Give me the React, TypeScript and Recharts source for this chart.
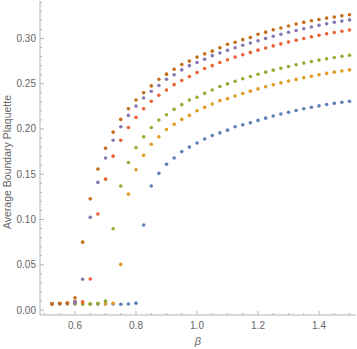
import React from "react";
import { ScatterChart, Scatter, XAxis, YAxis } from "recharts";

const betas = [
  0.525, 0.55, 0.575, 0.6, 0.625, 0.65, 0.675, 0.7, 0.725, 0.75,
  0.775, 0.8, 0.825, 0.85, 0.875, 0.9, 0.925, 0.95, 0.975, 1.0,
  1.025, 1.05, 1.075, 1.1, 1.125, 1.15, 1.175, 1.2, 1.225, 1.25,
  1.275, 1.3, 1.325, 1.35, 1.375, 1.4, 1.425, 1.45, 1.475, 1.5,
];

const blueVals = [
  0.0066, 0.0068, 0.0068, 0.0066, 0.0066, 0.0066, 0.0067, 0.0066, 0.0066, 0.0064,
  0.0066, 0.0076, 0.094, 0.137, 0.151, 0.161, 0.168, 0.175, 0.18, 0.1846,
  0.189, 0.1928, 0.1957, 0.1987, 0.2024, 0.2046, 0.2069, 0.2095, 0.212, 0.2143,
  0.2165, 0.2185, 0.2205, 0.2224, 0.224, 0.2255, 0.227, 0.2283, 0.2295, 0.2306,
];

const orangeVals = [
  0.0068, 0.007, 0.0072, 0.0075, 0.007, 0.007, 0.0075, 0.0068, 0.0074, 0.0504,
  0.128, 0.155, 0.171, 0.1831, 0.1913, 0.1994, 0.2053, 0.2106, 0.215, 0.2202,
  0.2239, 0.2276, 0.2313, 0.2335, 0.2364, 0.2392, 0.2418, 0.2443, 0.2466, 0.2488,
  0.2509, 0.2529, 0.2548, 0.2566, 0.2583, 0.2599, 0.2614, 0.2628, 0.2641, 0.2653,
];

const greenVals = [
  0.0066, 0.0068, 0.007, 0.0072, 0.0067, 0.0065, 0.0072, 0.0098, 0.0898, 0.137,
  0.163, 0.1794, 0.1913, 0.2017, 0.21, 0.2157, 0.2217, 0.2269, 0.232, 0.235,
  0.2394, 0.2431, 0.2469, 0.2498, 0.2528, 0.2555, 0.258, 0.2605, 0.2628, 0.265,
  0.2671, 0.2691, 0.271, 0.2728, 0.2745, 0.2761, 0.2776, 0.279, 0.2803, 0.2815,
];

const redVals = [
  0.0066, 0.0072, 0.0075, 0.0095, 0.009, 0.0342, 0.106, 0.1446, 0.17, 0.1876,
  0.2017, 0.2128, 0.2224, 0.2306, 0.2372, 0.2431, 0.249, 0.2535, 0.258, 0.2624,
  0.2669, 0.27, 0.2735, 0.2765, 0.2794, 0.282, 0.2846, 0.2871, 0.2895, 0.2918,
  0.294, 0.2961, 0.2981, 0.3, 0.3018, 0.3035, 0.3051, 0.3066, 0.308, 0.3093,
];

const purpleVals = [
  0.0068, 0.0072, 0.0078, 0.0087, 0.034, 0.1024, 0.141, 0.168, 0.1876, 0.2024,
  0.215, 0.2253, 0.2342, 0.2417, 0.248, 0.255, 0.26, 0.2653, 0.27, 0.2735,
  0.277, 0.281, 0.2839, 0.2869, 0.2898, 0.2925, 0.295, 0.2975, 0.3, 0.3025,
  0.3046, 0.3068, 0.3088, 0.3108, 0.3127, 0.3145, 0.3162, 0.3178, 0.3192, 0.3205,
];

const brownVals = [
  0.0068, 0.0075, 0.0078, 0.0135, 0.075, 0.1228, 0.1557, 0.1787, 0.1965, 0.2106,
  0.2224, 0.232, 0.24, 0.2476, 0.255, 0.2606, 0.266, 0.2713, 0.275, 0.2794,
  0.283, 0.286, 0.2898, 0.2935, 0.2957, 0.2987, 0.301, 0.3046, 0.307, 0.3095,
  0.3115, 0.3138, 0.316, 0.3178, 0.3195, 0.321, 0.3225, 0.3238, 0.325, 0.3262,
];

const xTicks = [
  0.5, 0.55, 0.6, 0.65, 0.7, 0.75, 0.8, 0.85, 0.9, 0.95, 1.0,
  1.05, 1.1, 1.15, 1.2, 1.25, 1.3, 1.35, 1.4, 1.45, 1.5,
];
const xMajor = [0.6, 0.8, 1.0, 1.2, 1.4];

const yTicks = [
  0, 0.01, 0.02, 0.03, 0.04, 0.05, 0.06, 0.07, 0.08, 0.09, 0.1, 0.11,
  0.12, 0.13, 0.14, 0.15, 0.16, 0.17, 0.18, 0.19, 0.2, 0.21, 0.22, 0.23,
  0.24, 0.25, 0.26, 0.27, 0.28, 0.29, 0.3, 0.31, 0.32, 0.33, 0.34,
];
const yMajor = [0, 0.05, 0.1, 0.15, 0.2, 0.25, 0.3];

const series = [
  { name: "s1", vals: blueVals, color: "#5E81B5" },
  { name: "s2", vals: orangeVals, color: "#E19C24" },
  { name: "s3", vals: greenVals, color: "#8FB032" },
  { name: "s4", vals: redVals, color: "#EB6235" },
  { name: "s5", vals: purpleVals, color: "#8778B3" },
  { name: "s6", vals: brownVals, color: "#C56E1A" },
];

const FRAME = "#b4b4b4";
const LABEL = "#666666";
const FONT = "'Liberation Sans', Arial, sans-serif";

const isMajor = (list: number[], v: number) =>
  list.some((m) => Math.abs(m - v) < 1e-6);

const BottomTick = (props: any) => {
  const { x, y, payload } = props;
  const major = isMajor(xMajor, payload.value);
  return (
    <g>
      <line x1={x} x2={x} y1={y} y2={y - (major ? 4 : 2)} stroke={FRAME} />
      {major && (
        <text
          x={x}
          y={y + 14}
          textAnchor="middle"
          fontSize={10}
          fontFamily={FONT}
          fill={LABEL}
        >
          {payload.value.toFixed(1)}
        </text>
      )}
    </g>
  );
};

const TopTick = (props: any) => {
  const { x, y, payload } = props;
  const major = isMajor(xMajor, payload.value);
  return <line x1={x} x2={x} y1={y} y2={y + (major ? 4 : 2)} stroke={FRAME} />;
};

const LeftTick = (props: any) => {
  const { x, y, payload } = props;
  const major = isMajor(yMajor, payload.value);
  return (
    <g>
      <line x1={x} x2={x + (major ? 4 : 2)} y1={y} y2={y} stroke={FRAME} />
      {major && (
        <text
          x={x - 4}
          y={y + 3.5}
          textAnchor="end"
          fontSize={10}
          fontFamily={FONT}
          fill={LABEL}
        >
          {payload.value.toFixed(2)}
        </text>
      )}
    </g>
  );
};

const RightTick = (props: any) => {
  const { x, y, payload } = props;
  const major = isMajor(yMajor, payload.value);
  return <line x1={x} x2={x - (major ? 4 : 2)} y1={y} y2={y} stroke={FRAME} />;
};

const YTitle = () => (
  <text
    x={11}
    y={162}
    transform="rotate(-90 11 162)"
    textAnchor="middle"
    fontSize={10.5}
    fontFamily={FONT}
    fill={LABEL}
  >
    Average Boundary Plaquette
  </text>
);

const Dot = (props: any) => {
  const { cx, cy, fill } = props;
  return <circle cx={cx} cy={cy} r={1.8} fill={fill} />;
};

const xDomain = [0.4852, 1.5213];
const yDomain = [-0.0055, 0.3414];

export default function App() {
  return (
    <div style={{ position: "absolute", left: 0, top: 0 }}>
      <ScatterChart
        width={357}
        height={349}
        margin={{ top: 1, right: 1, bottom: 0, left: 0 }}
      >
        <XAxis
          xAxisId="b"
          type="number"
          dataKey="x"
          domain={xDomain}
          ticks={xTicks}
          interval={0}
          height={34}
          tickSize={0}
          tickMargin={0}
          stroke={FRAME}
          tick={BottomTick}
          allowDataOverflow
          label={{
            value: "β",
            position: "insideBottom",
            offset: 4,
            fontStyle: "italic",
            fontSize: 11,
            fontFamily: FONT,
            fill: LABEL,
          }}
        />
        <XAxis
          xAxisId="t"
          orientation="top"
          type="number"
          dataKey="x"
          domain={xDomain}
          ticks={xTicks}
          interval={0}
          height={0}
          tickSize={0}
          tickMargin={0}
          stroke={FRAME}
          tick={TopTick}
          allowDataOverflow
        />
        <YAxis
          yAxisId="l"
          type="number"
          dataKey="y"
          domain={yDomain}
          ticks={yTicks}
          interval={0}
          width={40}
          tickSize={0}
          tickMargin={0}
          stroke={FRAME}
          tick={LeftTick}
          allowDataOverflow
          label={<YTitle />}
        />
        <YAxis
          yAxisId="r"
          orientation="right"
          type="number"
          dataKey="y"
          domain={yDomain}
          ticks={yTicks}
          interval={0}
          width={0}
          tickSize={0}
          tickMargin={0}
          stroke={FRAME}
          tick={RightTick}
          allowDataOverflow
        />
        {series.map((s) => (
          <Scatter
            key={s.name}
            name={s.name}
            xAxisId="b"
            yAxisId="l"
            data={betas.map((b, i) => ({ x: b, y: s.vals[i] }))}
            fill={s.color}
            shape={Dot}
            isAnimationActive={false}
          />
        ))}
      </ScatterChart>
    </div>
  );
}
